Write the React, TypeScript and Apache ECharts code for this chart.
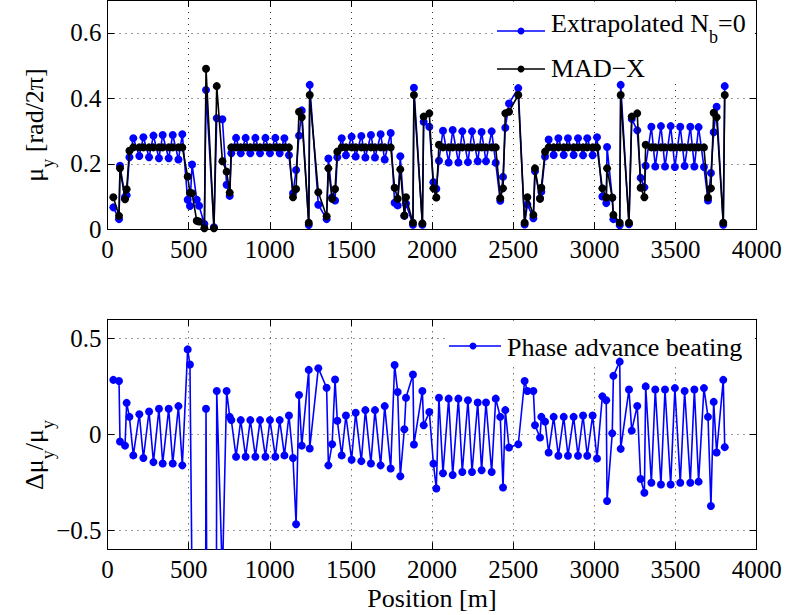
import React, { useEffect, useRef } from 'react';
import * as echarts from 'echarts';

// BPM positions along the ring [m]
const positions = [
  36, 71, 77, 108, 118, 135, 159, 196, 221, 256, 283, 317, 340, 377, 402, 437, 461,
  494, 508, 521, 550, 564, 597, 607, 656, 673, 708, 734, 753,
  763, 792, 821, 851, 880, 911, 940, 973, 1001, 1034, 1061, 1090, 1118,
  1143, 1162, 1180, 1197, 1240, 1246, 1299, 1350, 1361, 1384, 1402, 1416,
  1443, 1469, 1504, 1529, 1564, 1589, 1623, 1648, 1683, 1708, 1745,
  1769, 1788, 1804, 1829, 1839, 1882, 1888, 1940, 1948, 1983, 2008, 2026, 2042,
  2067, 2102, 2127, 2162, 2186, 2221, 2246, 2281, 2305, 2332, 2367, 2392,
  2420, 2437, 2451, 2474, 2531, 2570, 2587, 2624, 2634, 2665, 2673, 2696,
  2718, 2749, 2778, 2811, 2837, 2872, 2899, 2930, 2956, 2989, 3016,
  3049, 3073, 3078, 3110, 3117, 3156, 3162, 3213, 3230, 3264, 3285, 3308, 3316,
  3351, 3375, 3410, 3435, 3470, 3496, 3529, 3556, 3591, 3616, 3642, 3675,
  3700, 3718, 3735, 3753, 3794, 3803,
];

// MAD-X phase advance [rad/2pi]
const madx = [
  0.098, 0.041, 0.186, 0.092, 0.122, 0.24, 0.25, 0.25, 0.25, 0.25, 0.25, 0.25, 0.25, 0.25, 0.25, 0.25, 0.25,
  0.161, 0.112, 0.11, 0.026, 0.024, 0.003, 0.49, 0.003, 0.437, 0.208, 0.176, 0.112,
  0.25, 0.25, 0.25, 0.25, 0.25, 0.25, 0.25, 0.25, 0.25, 0.25, 0.25, 0.25, 0.25,
  0.098, 0.123, 0.359, 0.342, 0.02, 0.41, 0.113, 0.04, 0.186, 0.093, 0.123, 0.237,
  0.25, 0.25, 0.25, 0.25, 0.25, 0.25, 0.25, 0.25, 0.25, 0.25, 0.25,
  0.127, 0.093, 0.183, 0.042, 0.098, 0.02, 0.41, 0.018, 0.344, 0.354, 0.125, 0.097, 0.258,
  0.25, 0.25, 0.25, 0.25, 0.25, 0.25, 0.25, 0.25, 0.25, 0.25, 0.25, 0.25,
  0.095, 0.125, 0.354, 0.359, 0.41, 0.02, 0.098, 0.044, 0.186, 0.093, 0.127, 0.237,
  0.25, 0.25, 0.25, 0.25, 0.25, 0.25, 0.25, 0.25, 0.25, 0.25, 0.25,
  0.125, 0.097, 0.186, 0.097, 0.044, 0.02, 0.41, 0.02, 0.344, 0.354, 0.127, 0.098, 0.258,
  0.25, 0.25, 0.25, 0.25, 0.25, 0.25, 0.25, 0.25, 0.25, 0.25, 0.25, 0.25,
  0.097, 0.125, 0.356, 0.342, 0.02, 0.41,
];

// Extrapolated (N_b = 0) phase advance [rad/2pi]
const extrapolated = [
  0.067, 0.031, 0.194, 0.099, 0.104, 0.22, 0.278, 0.224, 0.281, 0.22, 0.286, 0.217, 0.288, 0.217, 0.288, 0.213, 0.29,
  0.09, 0.071, 0.198, 0.09, 0.072, 0.016, 0.425, 0.006, 0.339, 0.336, 0.136, 0.102,
  0.232, 0.279, 0.232, 0.279, 0.232, 0.279, 0.232, 0.279, 0.232, 0.279, 0.232, 0.278, 0.226,
  0.11, 0.181, 0.286, 0.363, 0.013, 0.441, 0.075, 0.031, 0.216, 0.098, 0.088, 0.22,
  0.278, 0.226, 0.283, 0.222, 0.285, 0.219, 0.288, 0.219, 0.29, 0.213, 0.294,
  0.081, 0.073, 0.223, 0.041, 0.079, 0.014, 0.432, 0.014, 0.328, 0.313, 0.144, 0.124, 0.209,
  0.301, 0.204, 0.303, 0.204, 0.299, 0.205, 0.299, 0.208, 0.297, 0.208, 0.299, 0.203,
  0.087, 0.16, 0.31, 0.384, 0.431, 0.0145, 0.076, 0.034, 0.177, 0.095, 0.115, 0.222,
  0.274, 0.227, 0.278, 0.227, 0.278, 0.227, 0.278, 0.226, 0.278, 0.226, 0.281,
  0.1, 0.08, 0.251, 0.096, 0.031, 0.0125, 0.441, 0.0155, 0.337, 0.302, 0.157, 0.128, 0.194,
  0.313, 0.1915, 0.315, 0.1915, 0.315, 0.19, 0.313, 0.1935, 0.313, 0.1915, 0.312, 0.19,
  0.088, 0.172, 0.296, 0.374, 0.014, 0.437,
];

// Phase advance beating (values below -0.6 run off the axes)
const beating = [
  0.284, 0.278, -0.038, -0.059, 0.164, 0.091, -0.11, 0.105, -0.124, 0.119, -0.145, 0.133, -0.152, 0.133, -0.152, 0.147, -0.162,
  0.443, 0.364, -0.8, -2.46, -2.0, -4.3, 0.133, -10.0, 0.226, -0.75, 0.226, 0.091,
  0.074, -0.117, 0.074, -0.117, 0.074, -0.117, 0.074, -0.117, 0.074, -0.117, 0.074, -0.11, 0.098,
  -0.124, -0.469, 0.205, -0.059, 0.336, -0.074, 0.345, 0.243, -0.162, -0.052, 0.286, 0.071,
  -0.11, 0.098, -0.133, 0.112, -0.14, 0.126, -0.152, 0.126, -0.162, 0.147, -0.178,
  0.362, 0.221, -0.219, 0.026, 0.191, 0.312, -0.053, 0.226, 0.047, 0.116, -0.153, -0.283, 0.191,
  -0.203, 0.186, -0.212, 0.186, -0.197, 0.178, -0.197, 0.166, -0.188, 0.166, -0.197, 0.186,
  0.091, -0.278, 0.126, -0.069, -0.052, 0.278, 0.226, 0.226, 0.047, -0.017, 0.091, 0.066,
  -0.095, 0.091, -0.112, 0.091, -0.112, 0.091, -0.112, 0.098, -0.112, 0.098, -0.126,
  0.198, 0.178, -0.348, 0.005, 0.305, 0.379, -0.076, 0.234, 0.019, 0.148, -0.233, -0.305, 0.25,
  -0.253, 0.234, -0.262, 0.234, -0.262, 0.241, -0.253, 0.226, -0.253, 0.234, -0.247, 0.241,
  0.091, -0.374, 0.169, -0.095, 0.284, -0.067,
];

const muTicks = [0, 0.2, 0.4, 0.6];
const beatTicks = [-0.5, 0, 0.5];

const FONT = 'Liberation Serif';
const BLUE = '#0000ff';
const BLACK = '#000000';
const MAIN = 26;
const SUB = 18;
const SUBSHIFT = 11;
const TICKFONT = 25;

let mctx: CanvasRenderingContext2D | null = null;
function textWidth(t: string, size: number): number {
  if (!mctx) mctx = document.createElement('canvas').getContext('2d');
  if (!mctx) return t.length * size * 0.5;
  mctx.font = `${size}px "Liberation Serif"`;
  return mctx.measureText(t).width;
}

type Part = { t: string; sub?: boolean };

function runTexts(parts: Part[], x0: number, baseline: number, color = '#000') {
  let x = x0;
  return parts.map((p) => {
    const size = p.sub ? SUB : MAIN;
    const bl = p.sub ? baseline + SUBSHIFT : baseline;
    const el = {
      type: 'text',
      x,
      y: bl - 0.3375 * size,
      z: 10,
      style: { text: p.t, fontSize: size, fontFamily: FONT, fill: color, align: 'left', verticalAlign: 'middle' },
    };
    x += textWidth(p.t, size);
    return el;
  });
}

function runWidth(parts: Part[]) {
  return parts.reduce((s, p) => s + textWidth(p.t, p.sub ? SUB : MAIN), 0);
}

function rotatedLabel(parts: Part[], baselineX: number, centerY: number) {
  const w = runWidth(parts);
  return {
    type: 'group',
    x: baselineX,
    y: centerY + w / 2,
    rotation: Math.PI / 2,
    children: runTexts(parts, 0, 0),
  };
}

function fmt(v: number) {
  if (v === 0) return '0';
  return String(v).replace('-', '\u2212');
}

function buildOption() {
  const axisLine = { show: true, onZero: false, lineStyle: { color: '#000', width: 1 } };
  const tick = { show: true, inside: true, length: 7, lineStyle: { color: '#000', width: 1 } };
  const split = { show: true, lineStyle: { color: '#333', width: 1, type: [1, 5] } };
  const label = { show: true, fontSize: TICKFONT, fontFamily: FONT, color: '#000', formatter: fmt };

  const xAxes: any[] = [];
  [0, 1].forEach((g) => {
    xAxes.push({
      type: 'value', gridIndex: g, min: 0, max: 4000, interval: 500, position: 'bottom',
      axisLine, axisTick: tick, splitLine: split,
      axisLabel: { ...label, margin: 8, showMinLabel: true, showMaxLabel: true },
    });
    xAxes.push({
      type: 'value', gridIndex: g, min: 0, max: 4000, interval: 500, position: 'top',
      axisLine, axisTick: tick, splitLine: { show: false }, axisLabel: { show: false },
    });
  });

  const yAxes: any[] = [];
  const yDefs = [
    { g: 0, min: 0, max: 0.7, ticks: muTicks },
    { g: 1, min: -0.6, max: 0.6, ticks: beatTicks },
  ];
  yDefs.forEach((d) => {
    yAxes.push({
      type: 'value', gridIndex: d.g, min: d.min, max: d.max, position: 'left',
      axisLine, axisTick: { ...tick, customValues: d.ticks }, splitLine: split,
      axisLabel: { ...label, margin: 6, customValues: d.ticks },
    });
    yAxes.push({
      type: 'value', gridIndex: d.g, min: d.min, max: d.max, position: 'right',
      axisLine, axisTick: { ...tick, customValues: d.ticks }, splitLine: { show: false },
      axisLabel: { show: false, customValues: d.ticks },
    });
  });

  const lineSeries = (name: string, color: string, vals: number[], xi: number, yi: number, z: number) => ({
    name, type: 'line', xAxisIndex: xi, yAxisIndex: yi, z,
    data: positions.map((x, i) => [x, vals[i]]),
    symbol: 'circle', symbolSize: 8, showSymbol: true,
    lineStyle: { color, width: 1.6 }, itemStyle: { color },
    clip: true, silent: true,
  });

  const graphics: any[] = [
    // legend backgrounds
    { type: 'rect', z: 1, shape: { x: 493, y: 1.5, width: 262, height: 79 }, style: { fill: '#fff' } },
    { type: 'rect', z: 1, shape: { x: 445, y: 320.5, width: 310, height: 46 }, style: { fill: '#fff' } },
    // top legend entry 1
    { type: 'line', z: 10, shape: { x1: 497, y1: 31, x2: 545, y2: 31 }, style: { stroke: BLUE, lineWidth: 1.6 } },
    { type: 'circle', z: 10, shape: { cx: 521, cy: 31, r: 3.5 }, style: { fill: BLUE } },
    ...runTexts([{ t: 'Extrapolated N' }, { t: 'b', sub: true }, { t: '=0' }], 551, 32),
    // top legend entry 2
    { type: 'line', z: 10, shape: { x1: 497, y1: 69, x2: 545, y2: 69 }, style: { stroke: BLACK, lineWidth: 1.6 } },
    { type: 'circle', z: 10, shape: { cx: 521, cy: 69, r: 3.5 }, style: { fill: BLACK } },
    ...runTexts([{ t: 'MAD\u2212X' }], 551, 77),
    // bottom legend
    { type: 'line', z: 10, shape: { x1: 449, y1: 346, x2: 501, y2: 346 }, style: { stroke: BLUE, lineWidth: 1.6 } },
    { type: 'circle', z: 10, shape: { cx: 473, cy: 346, r: 3.5 }, style: { fill: BLUE } },
    ...runTexts([{ t: 'Phase advance beating' }], 507, 356),
    // axis titles
    rotatedLabel([{ t: '\u03bc' }, { t: 'y', sub: true }, { t: ' [rad/2\u03c0]' }], 43, 125),
    rotatedLabel([{ t: '\u0394\u03bc' }, { t: 'y', sub: true }, { t: '/\u03bc' }, { t: 'y', sub: true }], 43, 455),
    {
      type: 'text', z: 10, x: 432, y: 607 - 0.3375 * MAIN,
      style: { text: 'Position [m]', fontSize: MAIN, fontFamily: FONT, fill: '#000', align: 'center', verticalAlign: 'middle' },
    },
  ];

  return {
    animation: false,
    backgroundColor: '#fff',
    textStyle: { fontFamily: FONT },
    grid: [
      { left: 107.5, top: 0, width: 649.2, height: 229.3, show: false, containLabel: false, outerBoundsMode: 'none' },
      { left: 107.5, top: 319.3, width: 649.2, height: 230, show: false, containLabel: false, outerBoundsMode: 'none' },
    ],
    xAxis: xAxes,
    yAxis: yAxes,
    series: [
      lineSeries('Extrapolated N_b=0', BLUE, extrapolated, 0, 0, 2),
      lineSeries('MAD-X', BLACK, madx, 0, 0, 3),
      lineSeries('Phase advance beating', BLUE, beating, 2, 2, 2),
    ],
    graphic: graphics,
  };
}

export default function App() {
  const ref = useRef<HTMLDivElement>(null);
  useEffect(() => {
    if (!ref.current) return;
    const chart = echarts.init(ref.current, undefined, { renderer: 'svg' });
    chart.setOption(buildOption() as any);
    return () => chart.dispose();
  }, []);
  return (
    <div
      ref={ref}
      style={{ position: 'absolute', left: 0, top: 0, width: 786, height: 615, background: '#fff' }}
    />
  );
}
